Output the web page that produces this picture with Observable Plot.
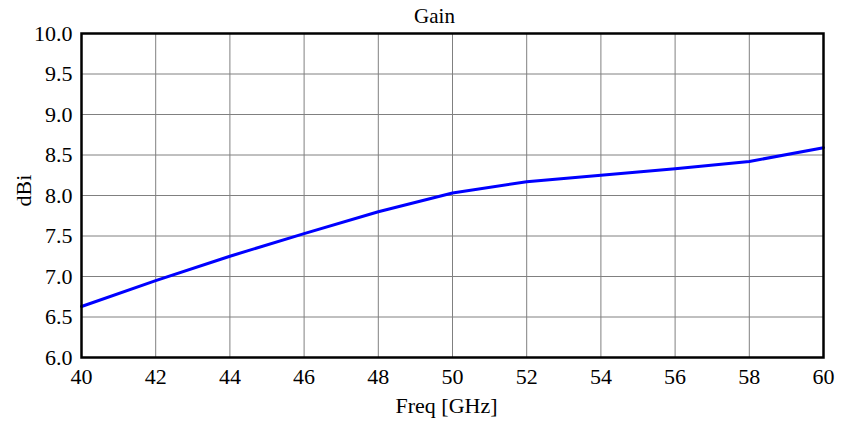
<!DOCTYPE html>
<html>
<head>
<meta charset="utf-8">
<script src="https://cdn.jsdelivr.net/npm/d3@7"></script>
<script src="https://cdn.jsdelivr.net/npm/@observablehq/plot@0.6"></script>
<style>
  body { margin: 0; background: #fff; }
</style>
</head>
<body>
<div id="chart"></div>
<script>
const freq = [40, 42, 44, 46, 48, 50, 52, 54, 56, 58, 60];
const gain = [6.63, 6.95, 7.25, 7.53, 7.80, 8.03, 8.17, 8.25, 8.33, 8.42, 8.59];
const xTicks = [40, 42, 44, 46, 48, 50, 52, 54, 56, 58, 60];
const yTicks = [6.0, 6.5, 7.0, 7.5, 8.0, 8.5, 9.0, 9.5, 10.0];
const title = "Gain";
const xLabel = "Freq [GHz]";
const yLabel = "dBi";

const data = freq.map((f, i) => ({ f, g: gain[i] }));
const font = "'Liberation Serif', 'DejaVu Serif', serif";

const chart = Plot.plot({
  width: 848,
  height: 425,
  marginTop: 33,
  marginLeft: 81,
  marginRight: 25,
  marginBottom: 68,
  style: { fontFamily: font, fontSize: "22px", background: "#fff", color: "#000" },
  x: { domain: [40, 60] },
  y: { domain: [6, 10] },
  marks: [
    Plot.gridX(xTicks, { stroke: "#808080", strokeOpacity: 1, strokeWidth: 1 }),
    Plot.gridY(yTicks, { stroke: "#808080", strokeOpacity: 1, strokeWidth: 1 }),
    Plot.line(data, { x: "f", y: "g", stroke: "#0000ff", strokeWidth: 3 }),
    Plot.frame({ stroke: "#000", strokeWidth: 2.5 }),
    Plot.axisX({ ticks: xTicks, tickSize: 0, tickPadding: 11, fontSize: 22, label: null, fill: "#000" }),
    Plot.axisY({ ticks: yTicks, tickSize: 0, tickPadding: 9, fontSize: 22, label: null, tickFormat: d3.format(".1f"), fill: "#000" }),
    Plot.text([title], { frameAnchor: "top", lineAnchor: "middle", textAnchor: "middle", dy: -17, dx: -18, fontSize: 21, fill: "#000" }),
    Plot.text([xLabel], { frameAnchor: "bottom", lineAnchor: "middle", textAnchor: "middle", dy: 48, dx: -6, fontSize: 22, fill: "#000" }),
    Plot.text([yLabel], { frameAnchor: "left", lineAnchor: "middle", textAnchor: "middle", dx: -58, dy: -5, rotate: -90, fontSize: 22, fill: "#000" })
  ]
});
document.getElementById("chart").appendChild(chart);
</script>
</body>
</html>
